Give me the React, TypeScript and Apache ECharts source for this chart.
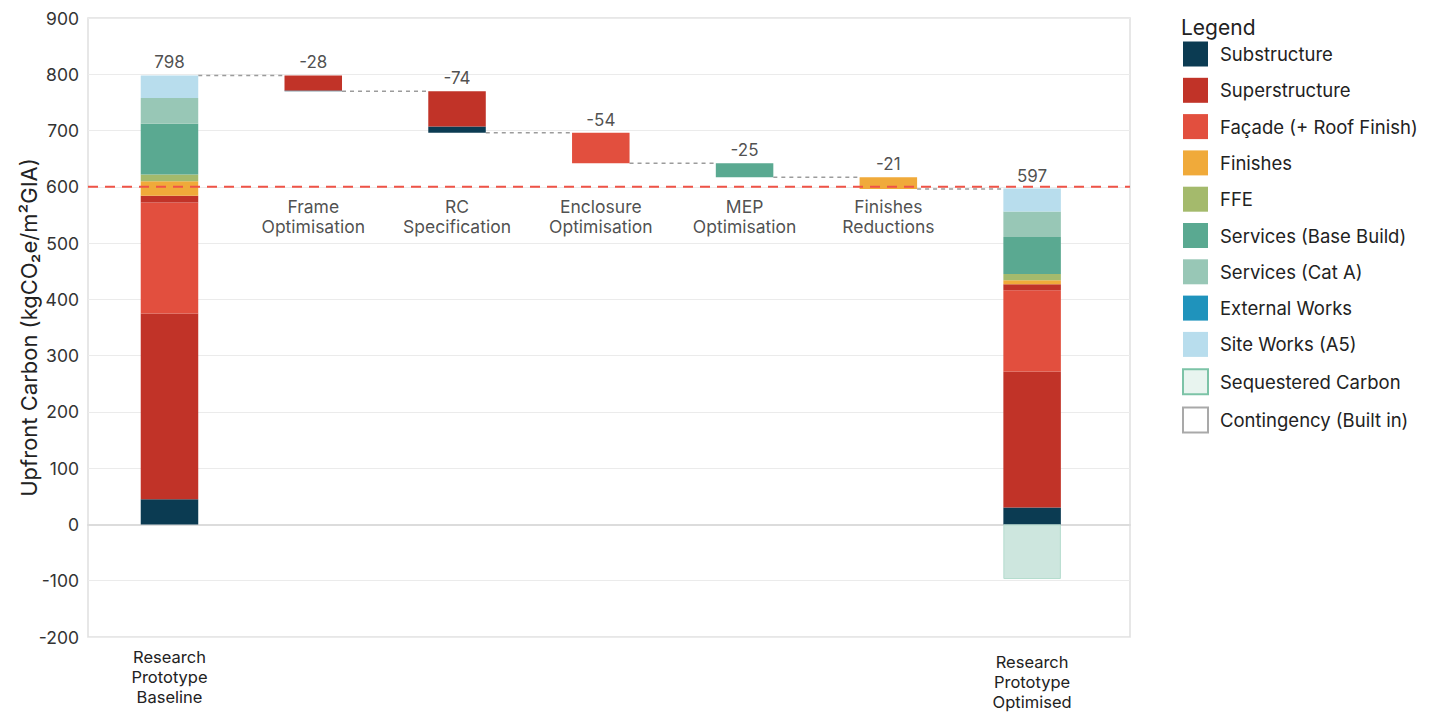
import React, { useEffect, useRef } from "react";
import * as echarts from "echarts";

// Stages of the upfront-carbon waterfall
const categories = [
  "Research\nPrototype\nBaseline",
  "Frame\nOptimisation",
  "RC\nSpecification",
  "Enclosure\nOptimisation",
  "MEP\nOptimisation",
  "Finishes\nReductions",
  "Research\nPrototype\nOptimised",
];

// Element contributions per stage (kgCO2e/m² GIA); middle stages are reductions
const substructure = [45, 1, 11, 0, 0, 0, 30];
const superstructure = [330, 27, 63, 0, 0, 0, 242];
const facade = [197, 0, 0, 54, 0, 0, 144];
const superstructureUpper = [12, 0, 0, 0, 0, 0, 11];
const finishes = [26, 0, 0, 0, 0, 21, 7];
const ffe = [12, 0, 0, 0, 0, 0, 11];
const servicesBase = [90, 0, 0, 0, 25, 0, 66];
const servicesCatA = [46, 0, 0, 0, 0, 0, 45];
const externalWorks = [0, 0, 0, 0, 0, 0, 0];
const siteWorks = [40, 0, 0, 0, 0, 0, 41];
const sequestered = [0, 0, 0, 0, 0, 0, -97];
const contingency = [0, 0, 0, 0, 0, 0, 0];

// Target line and y ticks
const targetValue = 600;
const yMin = -200;
const yMax = 900;
const yStep = 100;
// y value at which the reduction-stage names are centred
const stageNameAnchor = 547;

const FONT = "Inter, 'Open Sans', sans-serif";

const positiveParts = [
  substructure,
  superstructure,
  facade,
  superstructureUpper,
  finishes,
  ffe,
  servicesBase,
  servicesCatA,
  externalWorks,
  siteWorks,
];

const lastIdx = categories.length - 1;
const stageTotals = categories.map((_, i) =>
  positiveParts.reduce((s, arr) => s + arr[i], 0)
);

// Floating bases for the reduction steps and running level after each stage
const bases: number[] = [];
const levels: number[] = [];
stageTotals.forEach((t, i) => {
  if (i === 0 || i === lastIdx) {
    bases.push(0);
    levels.push(t);
  } else {
    const b = levels[i - 1] - t;
    bases.push(b);
    levels.push(b);
  }
});
const barTops = stageTotals.map((t, i) => bases[i] + t);
const barLabels = stageTotals.map((t, i) =>
  i === 0 || i === lastIdx ? String(t) : String(-t)
);

const BAR_W = "40%";

// empty segments are left out so they draw nothing
const seg = (arr: number[]) => arr.map((v) => (v === 0 ? "-" : v));

function part(name: string, data: number[], color: string, extra: any = {}) {
  return {
    name,
    type: "bar",
    xAxisIndex: 1,
    yAxisIndex: 1,
    stack: "total",
    barWidth: BAR_W,
    data: seg(data),
    itemStyle: { color, ...extra },
    emphasis: { disabled: true },
  };
}

export default function App() {
  const ref = useRef<HTMLDivElement>(null);

  useEffect(() => {
    const chart = echarts.init(ref.current!, null, { renderer: "svg" });

    const option: any = {
      animation: false,
      backgroundColor: "#ffffff",
      textStyle: { fontFamily: FONT },
      title: {
        text: "Legend",
        left: 1176,
        top: 12,
        textStyle: { fontFamily: FONT, fontSize: 21, fontWeight: "normal", color: "#222" },
      },
      legend: {
        orient: "vertical",
        left: 1177,
        top: 36.5,
        itemWidth: 25,
        itemHeight: 25,
        itemGap: 11.3,
        icon: "rect",
        selectedMode: false,
        textStyle: { fontFamily: FONT, fontSize: 18.5, color: "#222", padding: [0, 0, 0, 7] },
        data: [
          "Substructure",
          "Superstructure",
          "Façade (+ Roof Finish)",
          "Finishes",
          "FFE",
          "Services (Base Build)",
          "Services (Cat A)",
          "External Works",
          "Site Works (A5)",
          {
            name: "Sequestered Carbon",
            itemStyle: { color: "#e8f4ef", borderColor: "#7cc3a7", borderWidth: 2 },
          },
          {
            name: "Contingency (Built in)",
            itemStyle: { color: "#ffffff", borderColor: "#a9a9a9", borderWidth: 2 },
          },
        ],
      },
      grid: [
        { left: 88, right: 309, top: 18, bottom: 75, show: true, borderColor: "#e0e0e0", borderWidth: 1.5, backgroundColor: "transparent" },
        { left: 97.6, right: 335, top: 18, bottom: 75 },
      ],
      xAxis: [
        {
          type: "value",
          gridIndex: 0,
          min: 0,
          max: 1,
          axisLabel: { show: false },
          axisTick: { show: false },
          splitLine: { show: false },
          axisLine: { show: true, onZero: true, lineStyle: { color: "#dcdcdc", width: 2 } },
        },
        {
          type: "category",
          gridIndex: 1,
          data: categories,
          axisLine: { show: false },
          axisTick: { show: false },
          axisLabel: {
            interval: 0,
            margin: 10,
            fontFamily: FONT,
            fontSize: 16.5,
            lineHeight: 20,
            color: "#222",
            formatter: (v: string, i: number) => {
              if (i === 0) return v;
              if (i === lastIdx) return "{g|}\n" + v;
              return "";
            },
            rich: { g: { height: 5, lineHeight: 5 } },
          },
        },
      ],
      yAxis: [
        {
          type: "value",
          gridIndex: 0,
          min: yMin,
          max: yMax,
          interval: yStep,
          axisLine: { show: false },
          axisTick: { show: false },
          axisLabel: { fontFamily: FONT, fontSize: 17.5, color: "#333", margin: 9 },
          splitLine: { lineStyle: { color: "#ebebeb", width: 1 } },
          name: "Upfront Carbon (kgCO₂e/m²GIA)",
          nameLocation: "middle",
          nameGap: 48,
          nameMoveOverlap: false,
          nameTextStyle: { fontFamily: FONT, fontSize: 22, color: "#222" },
        },
        {
          type: "value",
          gridIndex: 1,
          min: yMin,
          max: yMax,
          interval: yStep,
          show: false,
          splitLine: { show: false },
        },
      ],
      series: [
        {
          name: "target",
          type: "line",
          xAxisIndex: 0,
          yAxisIndex: 0,
          data: [
            [0, targetValue],
            [1, targetValue],
          ],
          symbol: "none",
          silent: true,
          z: 5,
          lineStyle: { color: "#ef5347", width: 2, type: [10, 7] },
        },
        {
          name: "base",
          type: "bar",
          xAxisIndex: 1,
          yAxisIndex: 1,
          stack: "total",
          barWidth: BAR_W,
          data: bases,
          itemStyle: { color: "transparent" },
          silent: true,
        },
        part("Substructure", substructure, "#0b3b52"),
        part("Superstructure", superstructure, "#c13328"),
        part("Façade (+ Roof Finish)", facade, "#e24f3e"),
        part("Superstructure", superstructureUpper, "#c13328"),
        part("Finishes", finishes, "#f0aa3a"),
        part("FFE", ffe, "#a4ba6c"),
        part("Services (Base Build)", servicesBase, "#5aa991"),
        part("Services (Cat A)", servicesCatA, "#98c7b6"),
        part("External Works", externalWorks, "#1f93bc"),
        part("Site Works (A5)", siteWorks, "#b8dded"),
        part("Sequestered Carbon", sequestered, "#cde6de", { borderColor: "#b3dccd", borderWidth: 1 }),
        part("Contingency (Built in)", contingency, "#ffffff", { borderColor: "#a9a9a9", borderWidth: 0 }),
        {
          name: "connectors",
          type: "custom",
          xAxisIndex: 1,
          yAxisIndex: 1,
          silent: true,
          z: 1,
          data: levels.slice(0, lastIdx).map((lv, i) => [i, lv]),
          renderItem: (params: any, api: any) => {
            const i = api.value(0);
            const y = api.value(1);
            const p0 = api.coord([i, y]);
            const p1 = api.coord([i + 1, y]);
            const half = (api.size([1, 0])[0] * 0.4) / 2;
            return {
              type: "line",
              shape: { x1: p0[0] + half, y1: p0[1], x2: p1[0] - half, y2: p1[1] },
              style: { stroke: "#9c9c9c", lineWidth: 1.5, lineDash: [4, 4] },
            };
          },
        },
        {
          name: "values",
          type: "scatter",
          xAxisIndex: 1,
          yAxisIndex: 1,
          silent: true,
          symbolSize: 1,
          itemStyle: { color: "transparent" },
          data: barTops.map((t, i) => [i, t]),
          label: {
            show: true,
            position: "top",
            distance: 4,
            fontFamily: FONT,
            fontSize: 17,
            color: "#222",
            formatter: (p: any) => barLabels[p.dataIndex],
          },
        },
        {
          name: "stage names",
          type: "scatter",
          xAxisIndex: 1,
          yAxisIndex: 1,
          silent: true,
          symbolSize: 1,
          itemStyle: { color: "transparent" },
          data: categories.map((_, i) => [i, stageNameAnchor]).slice(1, lastIdx),
          label: {
            show: true,
            position: "inside",
            fontFamily: FONT,
            fontSize: 17.5,
            lineHeight: 20,
            color: "#222",
            formatter: (p: any) => categories[p.dataIndex + 1],
          },
        },
      ],
    };

    chart.setOption(option);
    return () => chart.dispose();
  }, []);

  return (
    <div
      ref={ref}
      style={{ position: "fixed", left: 0, top: 0, width: 1439, height: 712, background: "#fff" }}
    />
  );
}
